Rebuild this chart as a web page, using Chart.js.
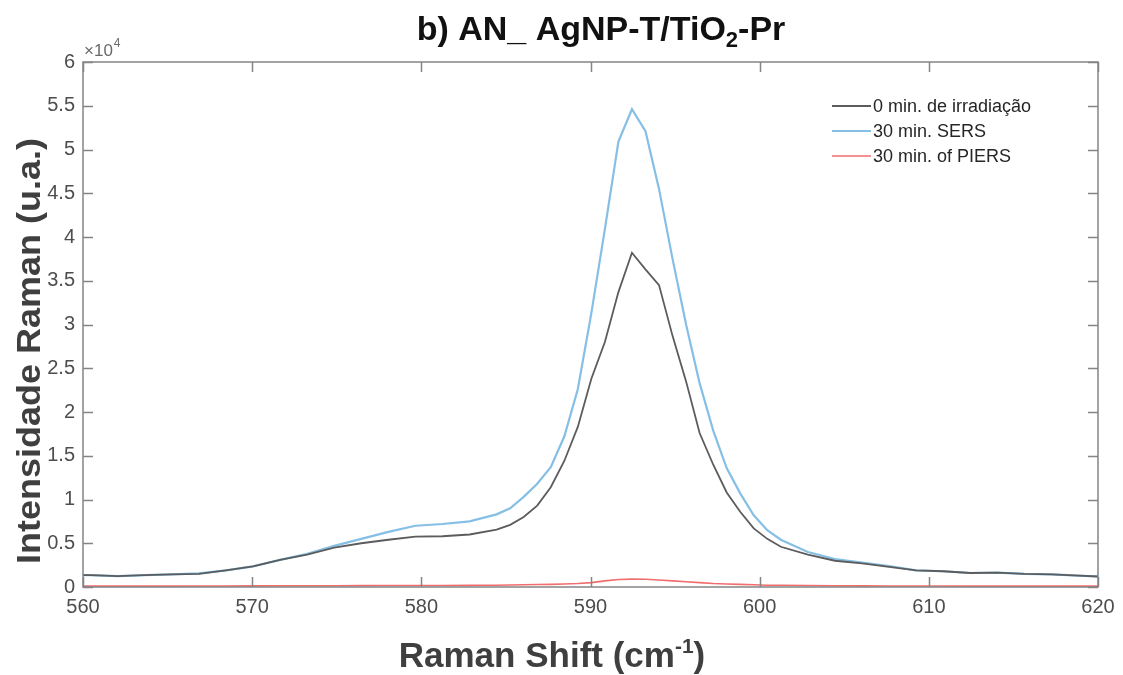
<!DOCTYPE html>
<html>
<head>
<meta charset="utf-8">
<script src="https://cdn.jsdelivr.net/npm/chart.js@4/dist/chart.umd.min.js"></script>
<style>
  html, body { margin: 0; padding: 0; background: #ffffff; }
  #wrap { width: 1123px; height: 675px; }
</style>
</head>
<body>
<div id="wrap"><canvas id="c" width="1123" height="675"></canvas></div>
<script>
// Raman shift axis (cm^-1)
const ramanShift = [
  560.00, 560.45, 562.05, 563.65, 565.25, 566.85, 568.45, 570.05, 571.65, 573.25,
  574.85, 576.45, 578.05, 579.65, 581.25, 582.85, 584.45, 585.25, 586.05, 586.85,
  587.65, 588.45, 589.25, 590.05, 590.85, 591.65, 592.45, 593.25, 594.05, 594.85,
  595.65, 596.45, 597.25, 598.05, 598.85, 599.65, 600.45, 601.25, 602.85, 604.45,
  606.05, 607.65, 609.25, 610.85, 612.45, 614.05, 615.65, 617.25, 618.85, 620.00
];

// Intensities (counts)
const irr0min = [
  1350, 1350, 1250, 1350, 1450, 1500, 1900, 2350, 3100, 3700,
  4500, 5000, 5400, 5750, 5800, 6000, 6550, 7100, 8000, 9300,
  11400, 14400, 18300, 23800, 28000, 33700, 38200, 36300, 34500, 28700,
  23500, 17600, 14000, 10800, 8600, 6700, 5500, 4600, 3700, 3000,
  2700, 2300, 1900, 1800, 1600, 1650, 1500, 1450, 1300, 1200
];

const sers30min = [
  1350, 1350, 1250, 1350, 1450, 1550, 1900, 2350, 3100, 3800,
  4700, 5500, 6300, 7000, 7200, 7500, 8300, 9000, 10300, 11800,
  13700, 17200, 22600, 31300, 40900, 50900, 54600, 52100, 45500, 37500,
  30000, 23300, 17900, 13600, 10700, 8200, 6500, 5400, 4000, 3200,
  2800, 2400, 1900, 1800, 1600, 1650, 1500, 1450, 1300, 1200
];

const piers30min = [
  100, 100, 100, 100, 100, 120, 120, 130, 140, 150,
  150, 160, 170, 180, 180, 190, 200, 220, 250, 280,
  300, 350, 400, 500, 700, 850, 900, 880, 800, 700,
  600, 500, 400, 350, 300, 250, 200, 200, 170, 150,
  130, 120, 110, 110, 100, 100, 100, 100, 100, 100
];

const seriesLabels = ['0 min. de irradiação', '30 min. SERS', '30 min. of PIERS'];
const seriesColors = ['#5c5c5c', '#86bfe6', '#f26d6d'];
const seriesWidths = [1.8, 2.2, 1.6];

const yTickValues = [0, 5000, 10000, 15000, 20000, 25000, 30000, 35000, 40000, 45000, 50000, 55000, 60000];
const xTickValues = [560, 570, 580, 590, 600, 610, 620];

const FONT = '"Liberation Sans", Arial, Helvetica, sans-serif';
const AXIS_GREY = '#858585';
const LABEL_GREY = '#4d4d4d';

function pts(ys) { return ramanShift.map((x, i) => ({ x: x, y: ys[i] })); }

// Box, inside tick marks, titles, exponent and legend
const decorations = {
  id: 'decorations',
  afterDatasetsDraw(chart) {
    const ctx = chart.ctx;
    const a = chart.chartArea;
    const xs = chart.scales.x, ys = chart.scales.y;
    ctx.save();
    ctx.strokeStyle = AXIS_GREY;
    ctx.lineWidth = 1.5;
    ctx.strokeRect(a.left, a.top, a.right - a.left, a.bottom - a.top);
    ctx.beginPath();
    xTickValues.forEach(v => {
      const px = Math.round(xs.getPixelForValue(v)) + 0.5;
      ctx.moveTo(px, a.bottom); ctx.lineTo(px, a.bottom - 10);
      ctx.moveTo(px, a.top); ctx.lineTo(px, a.top + 10);
    });
    yTickValues.forEach(v => {
      const py = Math.round(ys.getPixelForValue(v)) + 0.5;
      ctx.moveTo(a.left, py); ctx.lineTo(a.left + 10, py);
      ctx.moveTo(a.right, py); ctx.lineTo(a.right - 10, py);
    });
    ctx.stroke();

    // exponent label above the y axis
    ctx.fillStyle = '#6a6a6a';
    ctx.textBaseline = 'alphabetic';
    ctx.textAlign = 'left';
    ctx.font = '17px ' + FONT;
    ctx.fillText('\u00d710', a.left + 1, a.top - 6);
    const w10 = ctx.measureText('\u00d710').width;
    ctx.font = '12px ' + FONT;
    ctx.fillText('4', a.left + 1 + w10 + 1, a.top - 15);

    // title with subscript
    const titleParts = [
      { t: 'b) AN_ AgNP-T/TiO', size: 34, dy: 0 },
      { t: '2', size: 22, dy: 7 },
      { t: '-Pr', size: 34, dy: 0 }
    ];
    drawParts(ctx, titleParts, 601, 40, '#111111');

    // x axis title with superscript
    const xParts = [
      { t: 'Raman Shift (cm', size: 35, dy: 0 },
      { t: '-1', size: 21, dy: -14 },
      { t: ')', size: 35, dy: 0 }
    ];
    drawParts(ctx, xParts, 552, 667, '#3f3f3f');

    // y axis title (slightly narrowed across the text line)
    ctx.save();
    ctx.translate(40, 351);
    ctx.rotate(-Math.PI / 2);
    ctx.scale(1, 0.92);
    ctx.font = 'bold 36px ' + FONT;
    ctx.fillStyle = '#3f3f3f';
    ctx.textAlign = 'center';
    ctx.textBaseline = 'alphabetic';
    ctx.fillText('Intensidade Raman (u.a.)', 0, 0);
    ctx.restore();

    // legend
    ctx.font = '18px ' + FONT;
    ctx.textAlign = 'left';
    ctx.textBaseline = 'middle';
    chart.data.datasets.forEach((ds, i) => {
      const y = 106 + i * 25;
      ctx.strokeStyle = ds.borderColor;
      ctx.lineWidth = ds.borderWidth;
      ctx.beginPath();
      ctx.moveTo(832, y); ctx.lineTo(871, y);
      ctx.stroke();
      ctx.fillStyle = '#262626';
      ctx.fillText(ds.label, 873, y + 1);
    });
    ctx.restore();
  }
};

function drawParts(ctx, parts, cx, baseline, color) {
  ctx.save();
  ctx.fillStyle = color;
  ctx.textAlign = 'left';
  ctx.textBaseline = 'alphabetic';
  let total = 0;
  parts.forEach(p => { ctx.font = 'bold ' + p.size + 'px ' + FONT; p.w = ctx.measureText(p.t).width; total += p.w; });
  let x = cx - total / 2;
  parts.forEach(p => {
    ctx.font = 'bold ' + p.size + 'px ' + FONT;
    ctx.fillText(p.t, x, baseline + p.dy);
    x += p.w;
  });
  ctx.restore();
}

new Chart(document.getElementById('c'), {
  type: 'line',
  data: {
    datasets: [irr0min, sers30min, piers30min].map((ys, i) => ({
      label: seriesLabels[i],
      data: pts(ys),
      borderColor: seriesColors[i],
      borderWidth: seriesWidths[i],
      pointRadius: 0,
      tension: 0,
      fill: false
    }))
  },
  options: {
    responsive: false,
    animation: false,
    layout: { padding: { left: 0, top: 62, right: 25, bottom: 0 } },
    plugins: { legend: { display: false }, tooltip: { enabled: false }, title: { display: false } },
    scales: {
      x: {
        type: 'linear', min: 560, max: 620,
        afterFit(s) { s.height = 88; },
        afterBuildTicks(s) { s.ticks = xTickValues.map(v => ({ value: v })); },
        grid: { display: false, drawTicks: false },
        border: { display: false },
        ticks: {
          padding: 8, color: LABEL_GREY, maxRotation: 0,
          font: { family: FONT, size: 20 },
          callback: v => String(v)
        }
      },
      y: {
        type: 'linear', min: 0, max: 60000,
        afterFit(s) { s.width = 83; },
        afterBuildTicks(s) { s.ticks = yTickValues.map(v => ({ value: v })); },
        grid: { display: false, drawTicks: false },
        border: { display: false },
        ticks: {
          padding: 8, color: LABEL_GREY,
          font: { family: FONT, size: 20 },
          callback: v => String(v / 10000)
        }
      }
    }
  },
  plugins: [decorations]
});
</script>
</body>
</html>
